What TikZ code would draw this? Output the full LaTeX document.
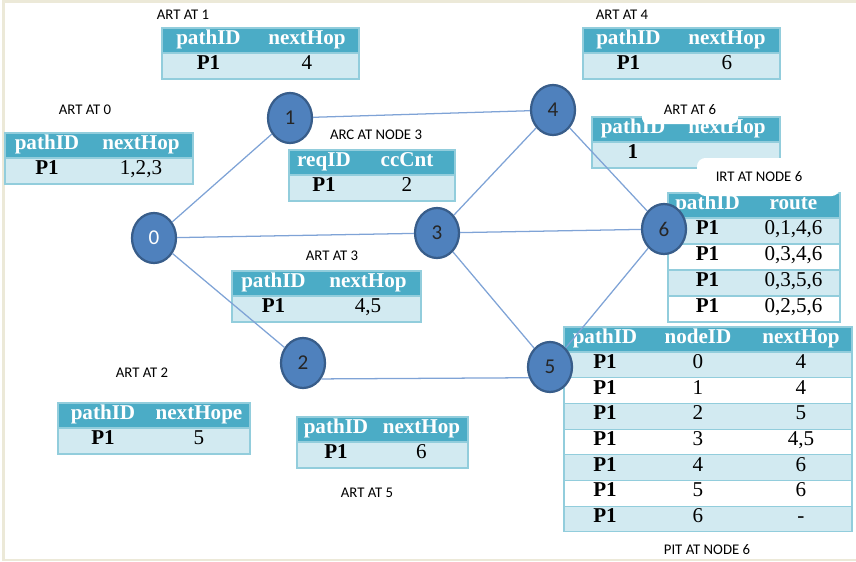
\documentclass[tikz,border=0pt]{standalone}
\usepackage{fontspec}
\setmainfont{Liberation Serif}
\newfontfamily\lblfont{Carlito}
\usetikzlibrary{positioning,shapes.geometric}
\definecolor{hdrteal}{HTML}{4BACC6}
\definecolor{rowlight}{HTML}{D2EAF1}
\definecolor{cellline}{HTML}{92CDDC}
\definecolor{nodefill}{HTML}{4F81BD}
\definecolor{nodeline}{HTML}{385D8A}
\definecolor{edgeblue}{HTML}{7FA3D6}
\definecolor{framec}{HTML}{ECE9D8}
\newlength{\pxu}
\setlength{\pxu}{0.025cm}
% two-column table: name, x, y, width 1, width 2, head 1, head 2, value 1, value 2
\newcommand{\arttab}[9]{%
  \node[hd, minimum width=#4\pxu] (#1h1) at (#2,#3) {#6};
  \node[hd, minimum width=#5\pxu, right=0pt of #1h1] (#1h2) {#7};
  \node[rw, minimum width=#4\pxu, below=0pt of #1h1] (#1c1) {\textbf{#8}};
  \node[rw, minimum width=#5\pxu, below=0pt of #1h2] (#1c2) {#9};
  \draw[rowbox] (#1h1.north west) rectangle (#1c2.south east);
  \draw[rowbox] (#1h1.south west) -- (#1h2.south east);
}

\begin{document}
\begin{tikzpicture}[
    x=0.025cm, y=-0.025cm,
    hd/.style={fill=hdrteal, text=white, font=\fontsize{15}{17}\selectfont\bfseries, minimum height=25\pxu, inner sep=0pt, outer sep=0pt, anchor=north west, text height=0.72em, text depth=0.22em},
    rw/.style={fill=rowlight, font=\fontsize{15}{17}\selectfont, minimum height=26\pxu, inner sep=0pt, outer sep=0pt, anchor=north west, text height=0.72em, text depth=0.22em},
    rowbox/.style={draw=cellline, line width=0.8pt},
    tlabel/.style={font=\lblfont\fontsize{10.5}{12}\selectfont, inner sep=1pt},
    netnode/.style={ellipse, draw=nodeline, line width=1.6pt, fill=nodefill, minimum width=44\pxu, minimum height=50\pxu, inner sep=0pt, font=\lblfont\fontsize{15}{17}\selectfont, text=black!85},
    link/.style={draw=edgeblue, line width=0.9pt}
  ]
  \useasboundingbox (0,0) rectangle (856,561);

  % Frame
  \draw[framec, line width=3\pxu] (3,561) -- (3,1.5) -- (856,1.5);
  \draw[framec, line width=2\pxu] (3,559.5) -- (856,559.5);

  % ART tables
  \arttab{a1}{162}{28}{93}{104}{pathID}{nextHop}{P1}{4}
  \arttab{a0}{5}{133}{84}{104}{pathID}{nextHop}{P1}{1,2,3}
  \arttab{a4}{583}{28}{91}{106}{pathID}{nextHop}{P1}{6}
  \arttab{a6}{592}{117}{82}{106}{pathID}{nextHop}{1}{}
  \arttab{arc}{289}{150}{70}{96}{reqID}{ccCnt}{P1}{2}
  \arttab{a3}{232}{271}{83}{106}{pathID}{nextHop}{P1}{4,5}
  \arttab{a2}{58}{403}{90}{102}{pathID}{nextHope}{P1}{5}
  \arttab{a5}{297}{417}{78}{93}{pathID}{nextHop}{P1}{6}

  % IRT at node 6
  \node[hd, minimum width=79\pxu] (irth1) at (668,193) {pathID};
  \node[hd, minimum width=93\pxu, right=0pt of irth1] (irth2) {route};
  \draw[rowbox] (irth1.north west) rectangle (irth2.south east);
  \foreach \v [count=\i] in {{0,1,4,6},{0,3,4,6},{0,3,5,6},{0,2,5,6}} {
    \ifodd\i \def\rowc{rowlight}\else\def\rowc{white}\fi
    \node[rw, fill=\rowc, minimum width=79\pxu] (irt\i a) at (668,{218+(\i-1)*26}) {\textbf{P1}};
    \node[rw, fill=\rowc, minimum width=93\pxu, right=0pt of irt\i a] (irt\i b) {\v};
    \draw[rowbox] (irt\i a.north west) rectangle (irt\i b.south east);
  }

  % PIT at node 6
  \node[hd, minimum width=82\pxu] (pith1) at (564,327) {pathID};
  \node[hd, minimum width=104\pxu, right=0pt of pith1] (pith2) {nodeID};
  \node[hd, minimum width=102\pxu, right=0pt of pith2] (pith3) {nextHop};
  \draw[rowbox] (pith1.north west) rectangle (pith3.south east);
  \foreach \n/\h [count=\i] in {0/4,1/4,2/5,3/{4,5},4/6,5/6,6/-} {
    \ifodd\i \def\rowc{rowlight}\else\def\rowc{white}\fi
    \node[rw, fill=\rowc, minimum height=25.7\pxu, minimum width=82\pxu] (pit\i a) at (564,{352+(\i-1)*25.7}) {\textbf{P1}};
    \node[rw, fill=\rowc, minimum height=25.7\pxu, minimum width=104\pxu, right=0pt of pit\i a] (pit\i b) {\n};
    \node[rw, fill=\rowc, minimum height=25.7\pxu, minimum width=102\pxu, right=0pt of pit\i b] (pit\i c) {\h};
    \draw[rowbox] (pit\i a.north west) rectangle (pit\i c.south east);
  }

  % Network nodes
  \node[netnode, text=white] (n0) at (154,238) {0};
  \node[netnode] (n1) at (290,118) {1};
  \node[netnode] (n2) at (303,363) {2};
  \node[netnode] (n3) at (437,233) {3};
  \node[netnode] (n4) at (553,110) {4};
  \node[netnode] (n5) at (550,367) {5};
  \node[netnode] (n6) at (664,229) {6};

  % Links
  \draw[link] (n0) -- (n1);
  \draw[link] (n0) -- (n3);
  \draw[link] (n0) -- (n2);
  \draw[link] (n1) -- (n4);
  \draw[link] (n3) -- (n4);
  \draw[link] (n3) -- (n6);
  \draw[link] (n3) -- (n5);
  \draw[link] (n2.-41) -- (n5.207);
  \draw[link] (n4) -- (n6);
  \draw[link] (n5) -- (n6);

  % Table labels
  \node[tlabel] (l1) at (183,15) {ART AT 1};
  \node[tlabel] (l0) at (85,110) {ART AT 0};
  \node[tlabel] (l4) at (622,15) {ART AT 4};
  \node[tlabel, fill=white, rounded corners=4pt, minimum width=96\pxu, minimum height=28\pxu] (l6) at (690,110) {ART AT 6};
  \node[tlabel] (larc) at (376,135) {ARC AT NODE 3};
  \fill[white, rounded corners=6pt] (697,158) rectangle (840,196);
  \node[tlabel] (lirt) at (759,177) {IRT AT NODE 6};
  \node[tlabel] (l3) at (332,256) {ART AT 3};
  \node[tlabel] (l2) at (142,373) {ART AT 2};
  \node[tlabel] (l5) at (367,493) {ART AT 5};
  \node[tlabel] (lpit) at (707,550) {PIT AT NODE 6};
\end{tikzpicture}
\end{document}
